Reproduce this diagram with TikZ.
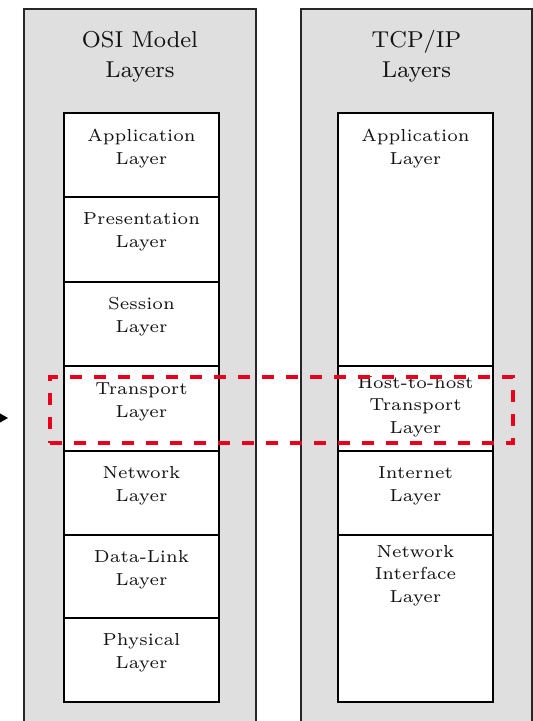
\documentclass[tikz,border=0pt]{standalone}
\usetikzlibrary{arrows.meta}
\definecolor{panelgray}{RGB}{223,223,223}
\definecolor{hlred}{RGB}{232,0,28}
\begin{document}
\begin{tikzpicture}[x=1pt,y=1pt,
  panel/.style={draw=black!85, line width=1.2pt, fill=panelgray, anchor=north west, inner sep=0pt, outer sep=0pt, minimum width=232pt, minimum height=740pt},
  layerbox/.style={draw=black, line width=1.8pt, fill=white, anchor=north west, inner sep=0pt, outer sep=0pt, minimum width=155pt},
  lab/.style={font=\fontsize{6}{7.75}\selectfont, align=center, scale=2.9, transform shape, inner sep=0pt, anchor=base, text=black!92},
  ttl/.style={font=\fontsize{8}{10.1}\selectfont, align=center, scale=2.875, transform shape, inner sep=0pt, anchor=base, text=black!92},
  hl/.style={draw=hlred, line width=4.5pt, dash pattern=on 12pt off 12pt, anchor=north west, inner sep=0pt, outer sep=0pt, minimum width=463pt, minimum height=66pt}]
\useasboundingbox (0,0) rectangle (533,-721);
% panels
\node[panel] (osiP) at (24,-9) {};
\node[panel, minimum width=231pt] (tcpP) at (301,-9) {};
% titles (anchor base = last line)
\node[ttl] (osiT) at (140,-77) {OSI Model\\Layers};
\node[ttl] (tcpT) at (416.5,-77) {TCP/IP\\Layers};
% OSI boxes
\node[layerbox, minimum height=84pt] (osi1) at (64,-113) {};
\node[layerbox, minimum height=85pt] (osi2) at (64,-197) {};
\node[layerbox, minimum height=84pt] (osi3) at (64,-282) {};
\node[layerbox, minimum height=85pt] (osi4) at (64,-366) {};
\node[layerbox, minimum height=84pt] (osi5) at (64,-451) {};
\node[layerbox, minimum height=83pt] (osi6) at (64,-535) {};
\node[layerbox, minimum height=84pt] (osi7) at (64,-618) {};
% TCP boxes
\node[layerbox, minimum height=253pt] (tcp1) at (338,-113) {};
\node[layerbox, minimum height=85pt] (tcp2) at (338,-366) {};
\node[layerbox, minimum height=84pt] (tcp3) at (338,-451) {};
\node[layerbox, minimum height=167pt] (tcp4) at (338,-535) {};
% OSI labels (anchor base = last line)
\node[lab] (l1) at (141.5,-164) {Application\\Layer};
\node[lab] (l2) at (141.5,-247) {Presentation\\Layer};
\node[lab] (l3) at (141.5,-332) {Session\\Layer};
\node[lab] (l4) at (141.5,-417) {Transport\\Layer};
\node[lab] (l5) at (141.5,-501) {Network\\Layer};
\node[lab] (l6) at (141.5,-585) {Data-Link\\Layer};
\node[lab] (l7) at (141.5,-668) {Physical\\Layer};
% TCP labels
\node[lab] (t1) at (415.5,-164) {Application\\Layer};
\node[lab] (t2) at (415.5,-433) {Host-to-host\\Transport\\Layer};
\node[lab] (t3) at (415.5,-501) {Internet\\Layer};
\node[lab] (t4) at (415.5,-602) {Network\\Interface\\Layer};
% highlight
\node[hl] (hlbox) at (50,-377) {};
% arrow coming from the left
\coordinate (arrsrc) at (-40,-418);
\coordinate (arrtip) at (8,-418);
\draw[-{Stealth[length=15pt,width=17pt,inset=5pt]}, line width=1.5pt] (arrsrc) -- (arrtip);
\end{tikzpicture}
\end{document}
